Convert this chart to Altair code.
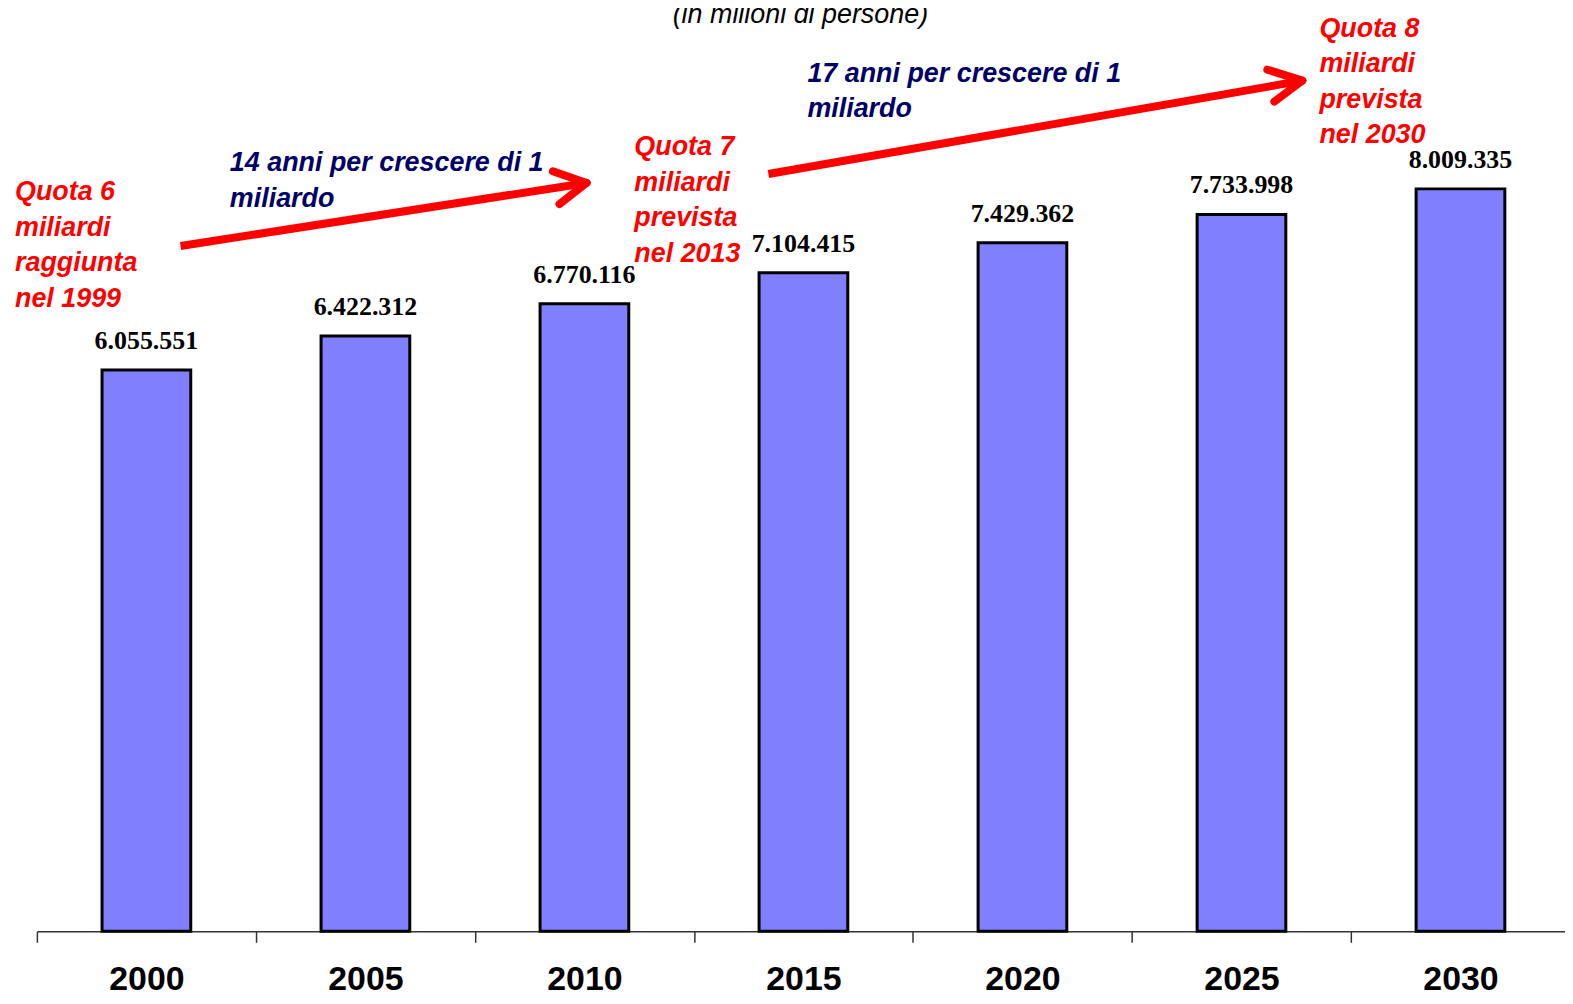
import altair as alt
import pandas as pd

# ---- data ----
years = ["2000", "2005", "2010", "2015", "2020", "2025", "2030"]
population = [6055551, 6422312, 6770116, 7104415, 7429362, 7733998, 8009335]

subtitle = "(in milioni di persone)"
subtitle_year = 2014.93
subtitle_value = 9800000

note_texts = [
    "Quota 6\nmiliardi\nraggiunta\nnel 1999",
    "14 anni per crescere di 1\nmiliardo",
    "Quota 7\nmiliardi\nprevista\nnel 2013",
    "17 anni per crescere di 1\nmiliardo",
    "Quota 8\nmiliardi\nprevista\nnel 2030",
]
note_kind = ["traguardo", "intervallo", "traguardo", "intervallo", "traguardo"]
note_year = [1997.0, 2001.905, 2011.14, 2015.09, 2026.78]
note_value = [7887000, 8199000, 8371000, 9166000, 9650000]

# arrow segments (shaft, upper arm, lower arm) x2
seg_part = ["asta", "punta", "punta", "asta", "punta", "punta"]
seg_year1 = [2000.78, 2009.28, 2009.43, 2014.20, 2025.59, 2025.75]
seg_value1 = [7393000, 8199000, 7845000, 8170000, 9295000, 8951000]
seg_year2 = [2010.05, 2010.05, 2010.05, 2026.39, 2026.39, 2026.39]
seg_value2 = [8073000, 8073000, 8073000, 9177000, 9177000, 9177000]

# ---- tables ----
bars_df = pd.DataFrame({
    "anno": years,
    "popolazione": population,
    "etichetta": [f"{v:,}".replace(",", ".") for v in population],
})
notes_df = pd.DataFrame({"testo": note_texts, "tipo": note_kind,
                         "x": note_year, "y": note_value})
title_df = pd.DataFrame({"testo": [subtitle], "x": [subtitle_year], "y": [subtitle_value]})
seg_df = pd.DataFrame({"parte": seg_part, "x": seg_year1, "y": seg_value1,
                       "x2": seg_year2, "y2": seg_value2})

Y_DOMAIN = [0, 9940000]
X_DOMAIN = [1997.5, 2032.5]
X_RANGE = [0, 1539]

yscale = alt.Scale(domain=Y_DOMAIN, nice=False, zero=True)
xq = alt.Scale(domain=X_DOMAIN, range=X_RANGE, nice=False, zero=False)
xb = alt.Scale(paddingInner=0, paddingOuter=0, range=X_RANGE)

x_band = alt.X(
    "anno:O",
    sort=years,
    scale=xb,
    axis=alt.Axis(
        title=None, labelAngle=0, tickBand="extent",
        domainColor="#333333", domainWidth=1.5,
        tickColor="#333333", tickWidth=1.5, tickSize=11,
        labelFont="Liberation Sans", labelFontSize=34, labelFontWeight="bold",
        labelColor="black", labelBaseline="alphabetic", labelPadding=47,
    ),
)

bars = alt.Chart(bars_df).mark_bar(
    width=alt.RelativeBandSize(0.405), color="#8080FF", stroke="black", strokeWidth=3
).encode(
    x=x_band,
    y=alt.Y("popolazione:Q", scale=yscale, axis=None),
)

values = alt.Chart(bars_df).mark_text(
    font="Liberation Serif", fontWeight="bold", fontSize=26, color="black",
    baseline="alphabetic", align="center", dy=-21,
).encode(
    x=alt.X("anno:O", sort=years, scale=xb, axis=None),
    y=alt.Y("popolazione:Q", scale=yscale, axis=None),
    text="etichetta:N",
)

notes = alt.Chart(notes_df).mark_text(
    font="Liberation Sans", fontStyle="italic", fontWeight="bold", fontSize=27,
    align="left", baseline="alphabetic", lineBreak="\n", lineHeight=35.7,
).encode(
    x=alt.X("x:Q", scale=xq, axis=None),
    y=alt.Y("y:Q", scale=yscale, axis=None),
    text="testo:N",
    color=alt.Color("tipo:N", scale=alt.Scale(domain=["traguardo", "intervallo"],
                                               range=["#FF0000", "#000066"]), legend=None),
)

title = alt.Chart(title_df).mark_text(
    font="Liberation Sans", fontStyle="italic", fontSize=27, color="black",
    align="center", baseline="alphabetic",
).encode(
    x=alt.X("x:Q", scale=xq, axis=None),
    y=alt.Y("y:Q", scale=yscale, axis=None),
    text="testo:N",
)

shafts = alt.Chart(seg_df).transform_filter(alt.datum.parte == "asta").mark_rule(
    color="#FF0000", strokeWidth=8, strokeCap="butt"
).encode(
    x=alt.X("x:Q", scale=xq, axis=None), x2="x2:Q",
    y=alt.Y("y:Q", scale=yscale, axis=None), y2="y2:Q",
)

heads = alt.Chart(seg_df).transform_filter(alt.datum.parte == "punta").mark_rule(
    color="#FF0000", strokeWidth=8, strokeCap="round"
).encode(
    x=alt.X("x:Q", scale=xq, axis=None), x2="x2:Q",
    y=alt.Y("y:Q", scale=yscale, axis=None), y2="y2:Q",
)

chart = alt.layer(bars, values, shafts, heads, notes, title).resolve_scale(
    x="independent"
).properties(
    width=1534, height=925,
    padding={"left": 29, "top": 0, "right": 0, "bottom": 63},
    autosize=alt.AutoSizeParams(type="none"),
).configure_view(stroke=None)

chart.save("out.html", embed_options={"renderer": "svg", "actions": False})
